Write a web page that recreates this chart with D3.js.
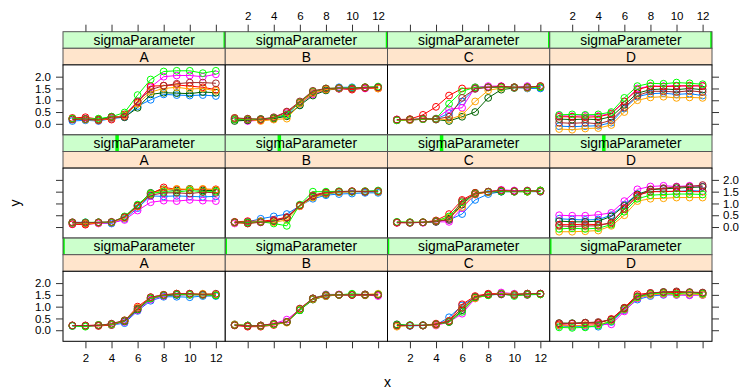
<!DOCTYPE html>
<html>
<head>
<meta charset="utf-8">
<script src="https://cdn.jsdelivr.net/npm/d3@7"></script>
<style>
body { margin: 0; background: #fff; }
svg text { font-family: "Liberation Sans", Arial, sans-serif; }
</style>
</head>
<body>
<div id="chart"></div>
<script>
// categories (columns) and conditioning levels (rows, bottom -> top)
var categories = ["A", "B", "C", "D"];
var sigmaLevels = [0.1, 0.2, 0.4];
var xValues = [1, 2, 3, 4, 5, 6, 7, 8, 9, 10, 11, 12];
var xTicks = [2, 4, 6, 8, 10, 12];
var yTicks = [0, 0.5, 1, 1.5, 2];
// lattice default superpose colours
var groupColors = ["#0080ff", "#ff00ff", "#006400", "#ff0000", "#ffa500", "#00ff00", "#a52a2a"];

// each panel: 7 groups x 12 points
var A_hi = [
  [0.12,0.15,0.12,0.22,0.28,0.75,1.02,1.25,1.22,1.20,1.22,1.18],
  [0.20,0.22,0.15,0.25,0.35,0.95,1.55,2.00,2.05,2.05,2.00,2.10],
  [0.22,0.20,0.18,0.30,0.28,0.68,1.25,1.32,1.30,1.28,1.35,1.32],
  [0.25,0.28,0.20,0.18,0.40,0.90,1.60,1.62,1.65,1.60,1.55,1.45],
  [0.20,0.18,0.15,0.25,0.35,0.85,1.35,1.50,1.55,1.48,1.50,1.40],
  [0.22,0.20,0.22,0.30,0.48,1.22,1.88,2.22,2.25,2.25,2.15,2.25],
  [0.18,0.20,0.15,0.28,0.30,0.95,1.45,1.62,1.70,1.75,1.75,1.72]
];
var B_hi = [
  [0.22,0.15,0.18,0.25,0.35,0.80,1.30,1.42,1.55,1.55,1.52,1.55],
  [0.18,0.12,0.15,0.20,0.45,0.88,1.25,1.45,1.48,1.48,1.50,1.52],
  [0.12,0.15,0.20,0.22,0.32,0.78,1.20,1.42,1.50,1.50,1.55,1.55],
  [0.20,0.18,0.15,0.25,0.50,0.90,1.35,1.48,1.50,1.45,1.52,1.50],
  [0.25,0.20,0.12,0.18,0.22,0.85,1.30,1.45,1.50,1.50,1.55,1.50],
  [0.18,0.20,0.20,0.25,0.40,0.92,1.38,1.50,1.52,1.52,1.55,1.58],
  [0.25,0.22,0.20,0.28,0.52,0.95,1.40,1.50,1.52,1.50,1.55,1.55]
];
var C_hi = [
  [0.15,0.15,0.20,0.20,0.45,0.95,1.50,1.55,1.55,1.55,1.50,1.50],
  [0.18,0.18,0.20,0.22,0.62,0.68,1.55,1.60,1.60,1.55,1.60,1.55],
  [0.15,0.18,0.20,0.18,0.12,0.30,0.50,1.10,1.45,1.52,1.55,1.55],
  [0.18,0.20,0.38,0.72,1.20,1.50,1.52,1.55,1.58,1.55,1.55,1.60],
  [0.15,0.15,0.20,0.20,0.18,0.38,0.95,1.42,1.52,1.55,1.52,1.58],
  [0.15,0.18,0.20,0.22,0.85,1.38,1.55,1.55,1.55,1.55,1.55,1.55],
  [0.18,0.18,0.22,0.20,0.30,1.10,1.48,1.55,1.58,1.55,1.55,1.60]
];
var D_hi = [
  [-0.10,-0.12,-0.10,-0.08,0.05,0.65,1.15,1.28,1.30,1.25,1.28,1.20],
  [0.35,0.32,0.35,0.33,0.45,0.95,1.50,1.60,1.60,1.62,1.60,1.62],
  [0.20,0.18,0.20,0.18,0.30,0.80,1.30,1.45,1.48,1.45,1.50,1.45],
  [0.30,0.30,0.28,0.30,0.42,0.95,1.45,1.60,1.58,1.60,1.62,1.60],
  [-0.22,-0.25,-0.20,-0.18,-0.05,0.50,1.00,1.12,1.15,1.10,1.12,1.10],
  [0.38,0.40,0.38,0.40,0.50,1.10,1.60,1.72,1.70,1.75,1.72,1.68],
  [0.05,0.02,0.05,0.00,0.15,0.70,1.20,1.38,1.38,1.35,1.40,1.35]
];
var A_mid = [
  [0.20,0.20,0.18,0.15,0.35,0.80,1.32,1.30,1.32,1.30,1.28,1.30],
  [0.12,0.12,0.15,0.18,0.30,0.70,1.05,1.12,1.10,1.15,1.12,1.10],
  [0.18,0.15,0.20,0.20,0.42,0.92,1.45,1.60,1.55,1.62,1.55,1.55],
  [0.12,0.10,0.18,0.20,0.40,0.88,1.40,1.68,1.60,1.58,1.60,1.60],
  [0.20,0.15,0.18,0.20,0.38,0.88,1.40,1.58,1.62,1.60,1.62,1.58],
  [0.18,0.20,0.20,0.20,0.45,0.95,1.42,1.50,1.48,1.55,1.50,1.50],
  [0.20,0.18,0.20,0.22,0.42,0.90,1.35,1.45,1.45,1.42,1.48,1.45]
];
var B_mid = [
  [0.20,0.22,0.35,0.45,0.55,0.90,1.20,1.35,1.40,1.42,1.45,1.45],
  [0.15,0.22,0.20,0.28,0.40,0.88,1.30,1.45,1.50,1.50,1.52,1.52],
  [0.20,0.18,0.22,0.25,0.38,0.90,1.28,1.40,1.48,1.50,1.50,1.50],
  [0.22,0.25,0.25,0.30,0.42,0.92,1.35,1.48,1.50,1.52,1.50,1.52],
  [0.18,0.15,0.22,0.20,0.30,0.88,1.25,1.42,1.48,1.50,1.52,1.50],
  [0.20,0.20,0.22,0.15,0.05,0.95,1.50,1.50,1.52,1.50,1.52,1.55],
  [0.20,0.15,0.20,0.25,0.40,0.92,1.32,1.45,1.50,1.52,1.50,1.52]
];
var C_mid = [
  [0.20,0.18,0.20,0.25,0.30,0.55,1.15,1.40,1.50,1.50,1.50,1.50],
  [0.18,0.20,0.18,0.22,0.22,0.80,1.38,1.50,1.58,1.55,1.52,1.52],
  [0.20,0.20,0.20,0.22,0.35,0.95,1.45,1.48,1.50,1.50,1.52,1.55],
  [0.18,0.18,0.20,0.28,0.55,1.15,1.45,1.50,1.55,1.52,1.50,1.55],
  [0.20,0.20,0.20,0.25,0.40,0.85,1.38,1.48,1.55,1.50,1.50,1.52],
  [0.22,0.20,0.20,0.25,0.45,1.05,1.42,1.50,1.52,1.50,1.50,1.55],
  [0.20,0.18,0.20,0.25,0.30,1.10,1.40,1.50,1.55,1.52,1.55,1.50]
];
var D_mid = [
  [0.35,0.32,0.30,0.32,0.50,0.95,1.40,1.50,1.52,1.50,1.55,1.52],
  [0.50,0.48,0.48,0.52,0.60,1.10,1.60,1.72,1.75,1.72,1.75,1.72],
  [0.25,0.22,0.22,0.25,0.45,0.90,1.38,1.58,1.62,1.65,1.68,1.70],
  [0.10,0.10,0.12,0.10,0.15,0.80,1.35,1.50,1.50,1.52,1.50,1.50],
  [-0.20,-0.20,-0.18,-0.15,0.05,0.50,1.10,1.20,1.22,1.25,1.25,1.25],
  [-0.08,-0.05,-0.08,-0.05,0.10,0.65,1.20,1.35,1.38,1.40,1.40,1.38],
  [0.05,0.02,0.05,0.05,0.20,0.75,1.30,1.60,1.65,1.70,1.72,1.78]
];
var A_lo = [
  [0.18,0.18,0.20,0.22,0.30,0.82,1.25,1.42,1.42,1.40,1.45,1.45],
  [0.20,0.20,0.22,0.25,0.35,0.85,1.30,1.45,1.50,1.50,1.50,1.50],
  [0.20,0.18,0.22,0.25,0.38,0.88,1.35,1.48,1.50,1.52,1.52,1.48],
  [0.20,0.18,0.18,0.22,0.40,1.00,1.40,1.50,1.55,1.55,1.50,1.52],
  [0.20,0.20,0.22,0.25,0.42,0.95,1.38,1.50,1.55,1.52,1.55,1.52],
  [0.18,0.15,0.22,0.25,0.40,0.90,1.35,1.48,1.52,1.50,1.50,1.48],
  [0.20,0.20,0.20,0.28,0.42,0.92,1.40,1.50,1.55,1.55,1.52,1.55]
];
var B_lo = [
  [0.25,0.20,0.18,0.25,0.35,0.85,1.32,1.45,1.50,1.52,1.52,1.50],
  [0.22,0.18,0.20,0.28,0.45,0.88,1.35,1.52,1.52,1.50,1.50,1.45],
  [0.22,0.20,0.20,0.25,0.35,0.85,1.30,1.45,1.50,1.50,1.50,1.52],
  [0.20,0.15,0.15,0.22,0.35,0.90,1.35,1.48,1.50,1.50,1.48,1.50],
  [0.25,0.20,0.20,0.25,0.32,0.88,1.32,1.45,1.50,1.52,1.52,1.55],
  [0.22,0.20,0.18,0.25,0.35,0.85,1.35,1.50,1.50,1.55,1.50,1.52],
  [0.22,0.18,0.20,0.28,0.35,0.92,1.35,1.48,1.50,1.50,1.52,1.50]
];
var C_lo = [
  [0.20,0.18,0.20,0.22,0.55,1.05,1.40,1.50,1.52,1.50,1.50,1.52],
  [0.22,0.20,0.20,0.20,0.35,0.70,1.35,1.50,1.60,1.55,1.55,1.55],
  [0.25,0.20,0.22,0.25,0.35,0.85,1.38,1.50,1.55,1.52,1.55,1.55],
  [0.20,0.20,0.20,0.28,0.40,1.10,1.45,1.55,1.55,1.50,1.50,1.55],
  [0.15,0.20,0.20,0.22,0.38,0.95,1.35,1.50,1.55,1.52,1.55,1.52],
  [0.22,0.22,0.20,0.25,0.35,0.78,1.40,1.48,1.55,1.45,1.52,1.52],
  [0.20,0.20,0.20,0.25,0.38,0.95,1.42,1.52,1.52,1.50,1.55,1.55]
];
var D_lo = [
  [0.18,0.15,0.15,0.15,0.35,0.85,1.30,1.45,1.50,1.50,1.50,1.50],
  [0.22,0.20,0.20,0.25,0.25,0.80,1.35,1.50,1.52,1.50,1.48,1.50],
  [0.30,0.30,0.32,0.32,0.45,0.95,1.42,1.55,1.62,1.62,1.60,1.58],
  [0.25,0.28,0.30,0.30,0.48,0.95,1.52,1.58,1.60,1.60,1.60,1.55],
  [0.20,0.18,0.22,0.22,0.40,0.88,1.38,1.50,1.55,1.52,1.55,1.50],
  [0.12,0.10,0.12,0.20,0.38,0.90,1.40,1.55,1.58,1.55,1.60,1.55],
  [0.30,0.28,0.32,0.35,0.45,0.92,1.45,1.58,1.62,1.65,1.62,1.60]
];

// rows from top of the page to bottom
var rows = [
  { sigma: sigmaLevels[2], panels: [A_hi, B_hi, C_hi, D_hi] },
  { sigma: sigmaLevels[1], panels: [A_mid, B_mid, C_mid, D_mid] },
  { sigma: sigmaLevels[0], panels: [A_lo, B_lo, C_lo, D_lo] }
];

var W = 745, H = 389;
var padLeft = 63, panelW = 162.25;
var padTop = 31.7, stripH = 16.6, rowH = 103.2;
var panelH = rowH - 2 * stripH;

var svg = d3.select("#chart").append("svg")
  .attr("width", W).attr("height", H);

var x = d3.scaleLinear().domain([0.28, 12.72]).range([0, panelW]);
var y = d3.scaleLinear().domain([-0.47, 2.5]).range([panelH, 0]);
var sig = d3.scaleLinear().domain(d3.extent(sigmaLevels)).range([0, panelW]);

var line = d3.line()
  .x(function(d, i) { return x(xValues[i]); })
  .y(function(d) { return y(d); });

rows.forEach(function(row, r) {
  var y0 = padTop + r * rowH;
  categories.forEach(function(cat, c) {
    var g = svg.append("g")
      .attr("transform", "translate(" + (padLeft + c * panelW) + "," + y0 + ")");

    // sigmaParameter strip
    g.append("rect").attr("width", panelW).attr("height", stripH).attr("fill", "#ccffcc");
    var sx = sig(row.sigma);
    var x1 = Math.max(0, sx - 1.75), x2 = Math.min(panelW, sx + 1.75);
    g.append("rect").attr("x", x1).attr("width", x2 - x1)
      .attr("height", stripH).attr("fill", "#00ff00");
    g.append("rect").attr("width", panelW).attr("height", stripH)
      .attr("fill", "none").attr("stroke", "#555");
    g.append("text").attr("x", panelW / 2).attr("y", stripH / 2 + 5)
      .attr("text-anchor", "middle").attr("font-size", 13.8).text("sigmaParameter");

    // category strip
    g.append("rect").attr("y", stripH).attr("width", panelW).attr("height", stripH)
      .attr("fill", "#ffe5cc").attr("stroke", "#555");
    g.append("text").attr("x", panelW / 2).attr("y", stripH * 1.5 + 5)
      .attr("text-anchor", "middle").attr("font-size", 13.8).text(cat);

    // panel
    var p = g.append("g").attr("transform", "translate(0," + (2 * stripH) + ")");
    p.append("rect").attr("width", panelW).attr("height", panelH).attr("fill", "#fff");

    row.panels[c].forEach(function(vals, k) {
      var col = groupColors[k % groupColors.length];
      p.append("path").datum(vals).attr("d", line)
        .attr("fill", "none").attr("stroke", col).attr("stroke-width", 1);
      p.selectAll(null).data(vals).enter().append("circle")
        .attr("cx", function(d, i) { return x(xValues[i]); })
        .attr("cy", function(d) { return y(d); })
        .attr("r", 3.4)
        .attr("fill", "none").attr("stroke", col).attr("stroke-width", 1);
    });

    p.append("rect").attr("width", panelW).attr("height", panelH)
      .attr("fill", "none").attr("stroke", "#000");
  });
});

function styleAxis(a) {
  a.select(".domain").remove();
  a.selectAll(".tick line").attr("stroke", "#333");
  a.selectAll(".tick text").attr("font-size", 11.5).attr("fill", "#000")
    .attr("font-family", "Liberation Sans, Arial, sans-serif");
}

var bottomY = padTop + 3 * rowH;
categories.forEach(function(cat, c) {
  var gx = padLeft + c * panelW;
  svg.append("g").attr("transform", "translate(" + gx + "," + padTop + ")")
    .call(d3.axisTop(x).tickValues(xTicks).tickSize(7).tickPadding(5)
      .tickFormat(c % 2 === 1 ? d3.format("d") : ""))
    .call(styleAxis);
  svg.append("g").attr("transform", "translate(" + gx + "," + bottomY + ")")
    .call(d3.axisBottom(x).tickValues(xTicks).tickSize(7).tickPadding(6)
      .tickFormat(c % 2 === 0 ? d3.format("d") : ""))
    .call(styleAxis);
});

rows.forEach(function(row, r) {
  var py = padTop + r * rowH + 2 * stripH;
  svg.append("g").attr("transform", "translate(" + padLeft + "," + py + ")")
    .call(d3.axisLeft(y).tickValues(yTicks).tickSize(7).tickPadding(5)
      .tickFormat(r !== 1 ? d3.format(".1f") : ""))
    .call(styleAxis);
  svg.append("g").attr("transform", "translate(" + (padLeft + 4 * panelW) + "," + py + ")")
    .call(d3.axisRight(y).tickValues(yTicks).tickSize(7).tickPadding(4)
      .tickFormat(r === 1 ? d3.format(".1f") : ""))
    .call(styleAxis);
});

// axis titles
svg.append("text").attr("x", padLeft + 2 * panelW).attr("y", 387)
  .attr("text-anchor", "middle").attr("font-size", 14).text("x");
svg.append("text").attr("transform", "translate(19.5,203) rotate(-90)")
  .attr("text-anchor", "middle").attr("font-size", 14).text("y");
</script>
</body>
</html>
